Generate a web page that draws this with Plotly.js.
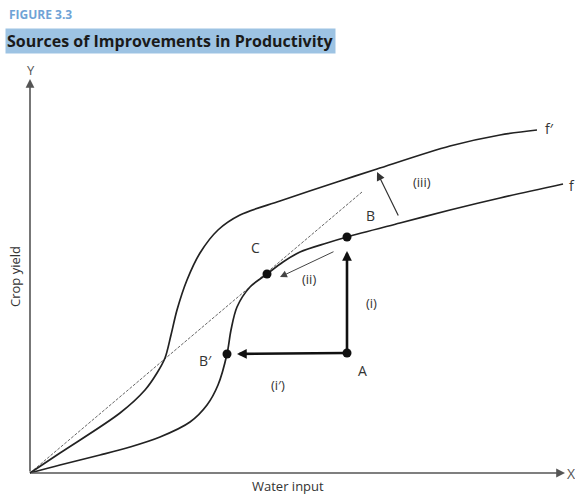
<!DOCTYPE html>
<html><head><meta charset="utf-8">
<script src="https://cdn.plot.ly/plotly-3.0.1.min.js"></script>
<style>html,body{margin:0;padding:0;background:#fff}</style>
</head><body><div id="chart" style="width:575px;height:495px"></div>
<script>
// Production function f (original technology)
const fX = [0, 30, 70, 100, 130, 160, 177, 188, 197, 201, 207, 220, 237, 253, 270, 297, 317, 370, 420, 470, 533];
const fY = [0, 8, 18, 26, 36, 51, 68, 88, 119, 143, 166, 186, 199, 211, 221, 230, 236, 250, 263, 275, 289];
// Production function f' (improved technology)
const fpX = [0, 30, 90, 115, 127, 135, 141, 147, 157, 170, 188, 210, 250, 310, 347, 420, 470, 507];
const fpY = [0, 20, 60, 83, 100, 115, 138, 163, 193, 220, 243, 258, 272, 292, 304, 327, 338, 343];
// Ray from origin (average productivity line)
const rayX = [0, 332];
const rayY = [0, 281];
// Named points
const ptNames = ['A', 'B', 'B′', 'C'];
const ptX = [317, 317, 197, 237];
const ptY = [120, 236, 119, 199];

const FONT = 'Open Sans, Noto Sans, sans-serif';
const LAB = '#333';
const idx = n => ptNames.indexOf(n);

const traces = [
  {x: rayX, y: rayY, mode: 'lines', line: {color: '#666', width: 1, dash: '3px,1.5px'}, hoverinfo: 'skip'},
  {x: fX, y: fY, mode: 'lines', line: {color: '#222', width: 1.7, shape: 'spline', smoothing: 0.9}, hoverinfo: 'skip'},
  {x: fpX, y: fpY, mode: 'lines', line: {color: '#222', width: 1.7, shape: 'spline', smoothing: 0.9}, hoverinfo: 'skip'},
  {x: ptX, y: ptY, mode: 'markers', marker: {color: '#111', size: 9}, hoverinfo: 'skip', cliponaxis: false}
];

function txt(t, x, y, size, extra) {
  return Object.assign({text: t, x: x, y: y, xref: 'x', yref: 'y', showarrow: false,
    font: {family: FONT, size: size || 13, color: LAB}, xanchor: 'center', yanchor: 'middle'}, extra || {});
}
function arrow(x, y, ax, ay, w, head, size, color, standoff) {
  return {x: x, y: y, ax: ax, ay: ay, xref: 'x', yref: 'y', axref: 'x', ayref: 'y', text: '',
    showarrow: true, arrowhead: head, arrowwidth: w, arrowsize: size, arrowcolor: color, standoff: standoff || 0};
}

const A = idx('A'), B = idx('B'), Bp = idx('B′');
const annotations = [
  // axes
  arrow(0, 394, 0, 0, 1.6, 2, 1.1, '#555'),
  arrow(535, 0, 0, 0, 1.6, 2, 1.1, '#555'),
  // thick arrows
  arrow(ptX[B], ptY[B], ptX[A], ptY[A], 2.6, 2, 0.75, '#111', 14),
  arrow(ptX[Bp], ptY[Bp], ptX[A], ptY[A], 2.6, 2, 0.75, '#111', 10),
  // thin arrows
  arrow(250, 196, 305, 222, 1, 2, 1.4, '#444'),
  arrow(347, 301, 369, 256, 1.2, 2, 1.4, '#333'),
  // labels
  txt('B', 340, 258, 14), txt('C', 225, 226, 14), txt('B′', 175, 113, 14), txt('A', 332, 103, 14),
  txt('(i)', 341, 170), txt('(ii)', 279, 194), txt('(i′)', 248, 88), txt('(iii)', 392, 291),
  txt('f′', 519, 345, 14), txt('f', 542, 288, 14),
  txt('Y', 1, 403, 13, {font: {family: FONT, size: 13, color: '#555'}}),
  txt('X', 541, 0, 14, {font: {family: FONT, size: 14, color: '#555'}}),
  txt('Water input', 258, -13, 13),
  txt('Crop yield', -15, 196, 13, {textangle: -90}),
  // header
  {text: '<b>FIGURE 3.3</b>', xref: 'paper', yref: 'paper', x: 7/575, y: 1 - 15/495, xanchor: 'left', yanchor: 'middle',
   showarrow: false, font: {family: FONT, size: 12, color: '#6fa3d6'}},
  {text: '<b>Sources of Improvements in Productivity</b>', xref: 'paper', yref: 'paper', x: 5/575, y: 1 - 41/495,
   xanchor: 'left', yanchor: 'middle', showarrow: false, bgcolor: '#9dc3e3', borderpad: 1,
   font: {family: FONT, size: 16, color: '#1a1a1a'}}
];

const layout = {
  width: 575, height: 495, margin: {l: 0, r: 0, t: 0, b: 0},
  paper_bgcolor: '#fff', plot_bgcolor: '#fff', showlegend: false,
  xaxis: {range: [-30, 545], visible: false, fixedrange: true},
  yaxis: {range: [-22, 473], visible: false, fixedrange: true},
  annotations: annotations
};
Plotly.newPlot('chart', traces, layout, {staticPlot: true, displayModeBar: false});
</script></body></html>
